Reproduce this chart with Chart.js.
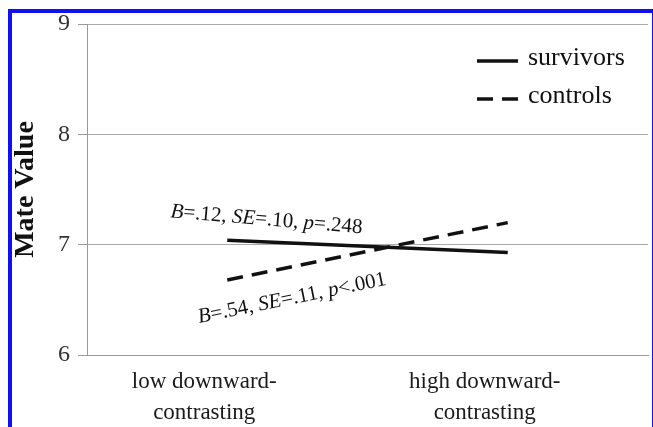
<!DOCTYPE html>
<html>
<head>
<meta charset="utf-8">
<script src="https://cdn.jsdelivr.net/npm/chart.js@4.4.1/dist/chart.umd.min.js"></script>
<style>
  html, body { margin: 0; padding: 0; background: #fff; }
  #wrap { position: relative; width: 653px; height: 427px; overflow: hidden; }
  #frame {
    position: absolute; left: 8px; top: 9px; width: 640px; height: 430px;
    border: 4px solid #1010f0; border-bottom: none;
  }
  canvas { position: absolute; left: 0; top: 0; }
</style>
</head>
<body>
<div id="wrap">
  <div id="frame"></div>
  <canvas id="chart" width="653" height="427"></canvas>
</div>
<script>
const categories = [["low downward-", "contrasting"], ["high downward-", "contrasting"]];
const survivors = [7.04, 6.93];
const controls = [6.68, 7.2];
const yTicks = [6, 7, 8, 9];
const seriesNames = ["survivors", "controls"];
const statLabels = [
  [["B", true], ["=.12, ", false], ["SE", true], ["=.10, ", false], ["p", true], ["=.248", false]],
  [["B", true], ["=.54, ", false], ["SE", true], ["=.11, ", false], ["p", true], ["<.001", false]]
];

const serif = "'Liberation Serif', 'DejaVu Serif', serif";

function drawRich(ctx, parts, size) {
  let x = 0;
  parts.forEach(([txt, italic]) => {
    ctx.font = (italic ? "italic " : "") + size + "px " + serif;
    ctx.fillText(txt, x, 0);
    x += ctx.measureText(txt).width;
  });
}

const extrasPlugin = {
  id: "extras",
  afterDatasetsDraw(chart) {
    const ctx = chart.ctx;
    const xs = chart.scales.x;
    const ys = chart.scales.y;

    // regression stats next to each line
    const x0 = xs.getPixelForValue(0);
    ctx.save();
    ctx.fillStyle = "#111";
    ctx.textBaseline = "alphabetic";

    ctx.save();
    ctx.translate(x0 - 57, ys.getPixelForValue(survivors[0]) - 23);
    ctx.rotate(4.8 * Math.PI / 180);
    drawRich(ctx, statLabels[0], 21);
    ctx.restore();

    ctx.save();
    ctx.translate(x0 - 28, ys.getPixelForValue(controls[0]) + 43);
    ctx.rotate(-11.5 * Math.PI / 180);
    drawRich(ctx, statLabels[1], 21);
    ctx.restore();

    // legend
    const lx = 477, lw = 41;
    const rows = [61, 99];
    chart.data.datasets.forEach((ds, i) => {
      ctx.save();
      ctx.strokeStyle = ds.borderColor;
      ctx.lineWidth = ds.borderWidth;
      ctx.setLineDash(ds.borderDash || []);
      ctx.beginPath();
      ctx.moveTo(lx, rows[i]);
      ctx.lineTo(lx + lw, rows[i]);
      ctx.stroke();
      ctx.restore();
      ctx.font = "26px " + serif;
      ctx.textBaseline = "middle";
      ctx.fillText(ds.label, lx + 51, rows[i] - 3);
    });
    ctx.restore();
  }
};

new Chart(document.getElementById("chart"), {
  type: "line",
  data: {
    labels: categories,
    datasets: [
      {
        label: seriesNames[0],
        data: survivors,
        borderColor: "#111",
        borderWidth: 3.5,
        pointRadius: 0,
        fill: false
      },
      {
        label: seriesNames[1],
        data: controls,
        borderColor: "#111",
        borderWidth: 3.5,
        borderDash: [16, 9],
        pointRadius: 0,
        fill: false
      }
    ]
  },
  options: {
    responsive: false,
    animation: false,
    layout: { padding: { left: 0, right: 5, top: 24, bottom: 0 } },
    plugins: {
      legend: { display: false },
      tooltip: { enabled: false }
    },
    scales: {
      x: {
        offset: true,
        grid: { display: false, drawTicks: false },
        border: { display: true, color: "#999", width: 1 },
        afterFit: s => { s.height = 72; },
        ticks: {
          color: "#1a1a1a",
          padding: 12,
          labelOffset: -23,
          maxRotation: 0,
          autoSkip: false,
          font: { family: serif, size: 23, lineHeight: 1.32 }
        }
      },
      y: {
        min: yTicks[0],
        max: yTicks[yTicks.length - 1],
        afterFit: s => { s.width = 87; },
        afterBuildTicks: s => { s.ticks = yTicks.map(v => ({ value: v })); },
        grid: { color: "#aaa", lineWidth: 1, tickLength: 9, tickColor: "#999" },
        border: { display: true, color: "#999", width: 1 },
        ticks: {
          color: "#333",
          padding: 8,
          font: { family: serif, size: 24 }
        },
        title: {
          display: true,
          text: "Mate Value",
          color: "#111",
          padding: { top: 9, bottom: 0 },
          font: { family: serif, size: 28, weight: "bold" }
        }
      }
    }
  },
  plugins: [extrasPlugin]
});
</script>
</body>
</html>
